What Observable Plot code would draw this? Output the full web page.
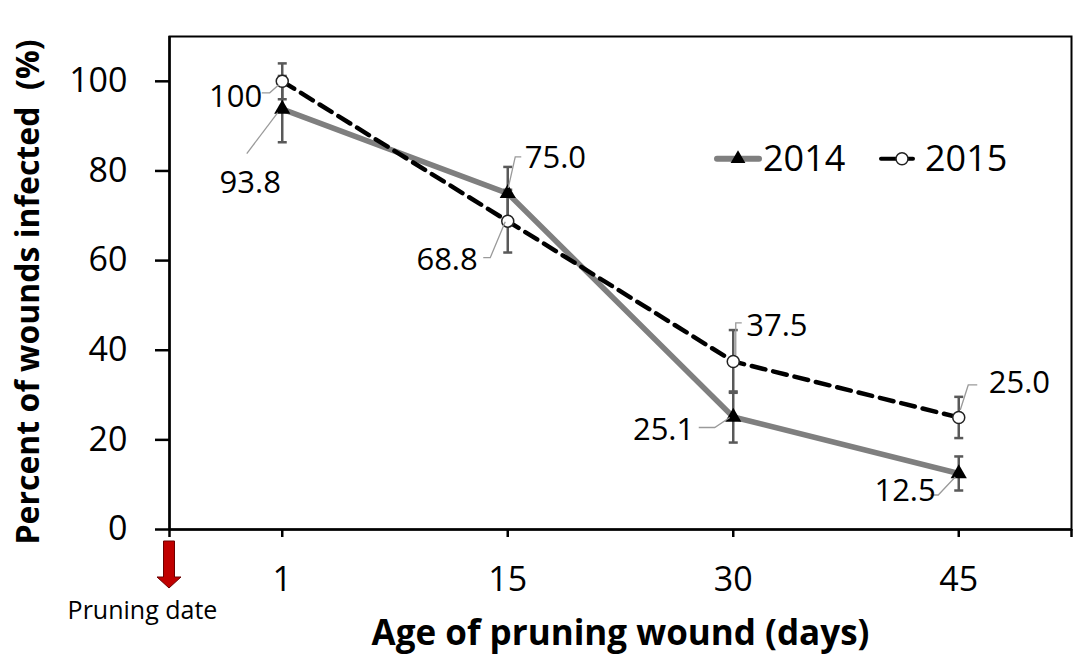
<!DOCTYPE html>
<html>
<head>
<meta charset="utf-8">
<script src="https://cdn.jsdelivr.net/npm/d3@7"></script>
<script src="https://cdn.jsdelivr.net/npm/@observablehq/plot@0.6"></script>
<style>
  html, body { margin: 0; padding: 0; background: white; }
  svg text { white-space: pre; }
</style>
</head>
<body>
<div id="chart"></div>
<script>
// ---- data ----
const days = ["1", "15", "30", "45"];
const y2014 = [93.8, 75.0, 25.1, 12.5];
const y2015 = [100, 68.8, 37.5, 25.0];
const err2014 = [7.4, 5.9, 5.7, 3.8];
const err2015 = [4.0, 7.0, 7.0, 4.6];
const yTicks = [0, 20, 40, 60, 80, 100];
const years = ["2014", "2015"];

// ---- label layout (pixel offsets from each point) ----
const lab2014 = [
  {dx: -32, dy: 74, anchor: "middle", lead: [[-35, 45], [-4, 4]]},
  {dx: 17, dy: -35, anchor: "start", lead: [[1, -5], [8, -36], [14, -36]]},
  {dx: -39, dy: 13, anchor: "end", lead: [[-34, 11], [-18, 11], [-3, 1]]},
  {dx: -23, dy: 18, anchor: "end", lead: [[-28, 22], [-20, 22], [-3, 4]]}
];
const lab2015 = [
  {dx: -20, dy: 16, anchor: "end", lead: [[-20, 12], [-12, 12], [-3, 4]]},
  {dx: -30, dy: 39, anchor: "end", lead: [[-24, 37], [-17, 37], [-2, 1]]},
  {dx: 13, dy: -35, anchor: "start", lead: [[9, -38], [3, -38], [3, -6]]},
  {dx: 30, dy: -34, anchor: "start", lead: [[19, -32], [10, -32], [2, -7]]}
];

const fmt = v => (v === 100 ? "100" : v.toFixed(1));
const r14 = days.map((d, i) => ({i, v: y2014[i], e: err2014[i], lab: lab2014[i]}));
const r15 = days.map((d, i) => ({i, v: y2015[i], e: err2015[i], lab: lab2015[i]}));
const all = [...r14, ...r15];

const capSymbol = {
  draw(ctx, size) {
    const w = Math.sqrt(size / Math.PI);
    ctx.moveTo(-w, 0);
    ctx.lineTo(w, 0);
  }
};

const labelMarks = all.map(d =>
  Plot.text([d], {
    x: "i", y: "v", text: q => fmt(q.v),
    dx: d.lab.dx, dy: d.lab.dy, textAnchor: d.lab.anchor,
    lineAnchor: "middle", fontSize: 31, fill: "black"
  })
);

function leaders(index, scales) {
  const g = d3.create("svg:g").attr("fill", "none").attr("stroke", "#9a9a9a").attr("stroke-width", 1.3);
  for (const d of all) {
    const px = scales.x(d.i), py = scales.y(d.v);
    g.append("polyline").attr("points", d.lab.lead.map(([a, b]) => `${px + a},${py + b}`).join(" "));
  }
  return g.node();
}

function legend(index, scales) {
  const g = d3.create("svg:g").attr("text-anchor", "start");
  const ly = scales.y(82.6);
  // 2014
  g.append("line").attr("x1", 717).attr("x2", 759).attr("y1", ly).attr("y2", ly)
    .attr("stroke", "#7f7f7f").attr("stroke-width", 6).attr("stroke-linecap", "round");
  g.append("path").attr("d", d3.symbol(d3.symbolTriangle, 95)()).attr("transform", `translate(738,${ly})`).attr("fill", "black");
  g.append("text").attr("x", 763).attr("y", ly).attr("dy", "0.35em").attr("font-size", 36).attr("text-anchor", "start").text(years[0]);
  // 2015
  g.append("line").attr("x1", 881).attr("x2", 913).attr("y1", ly).attr("y2", ly)
    .attr("stroke", "black").attr("stroke-width", 4).attr("stroke-linecap", "round");
  g.append("circle").attr("cx", 902).attr("cy", ly).attr("r", 6).attr("fill", "white").attr("stroke", "#222").attr("stroke-width", 1.5);
  g.append("text").attr("x", 925).attr("y", ly).attr("dy", "0.35em").attr("font-size", 36).attr("text-anchor", "start").text(years[1]);
  return g.node();
}

function pruningArrow(index, scales) {
  const x0 = scales.x(-0.5);
  const top = 541, shaftEnd = 577, tip = 588;
  const pts = [
    [x0 - 5.5, top], [x0 + 5.5, top], [x0 + 5.5, shaftEnd], [x0 + 12, shaftEnd],
    [x0, tip], [x0 - 12, shaftEnd], [x0 - 5.5, shaftEnd]
  ];
  return d3.create("svg:polygon")
    .attr("points", pts.map(p => p.join(",")).join(" "))
    .attr("fill", "#c00000").attr("stroke", "#6b0000").attr("stroke-width", 1).node();
}

const chart = Plot.plot({
  width: 1075,
  height: 659,
  marginLeft: 169,
  marginRight: 4,
  marginTop: 36,
  marginBottom: 130,
  style: {fontFamily: "'Open Sans', sans-serif", background: "white", color: "black"},
  x: {type: "linear", domain: [-0.5, 3.5]},
  y: {domain: [0, 110]},
  marks: [
    Plot.frame({stroke: "black", strokeWidth: 2}),
    Plot.axisY({ticks: yTicks, tickSize: 14, tickPadding: 28, fontSize: 34, label: null, strokeWidth: 2.5}),
    Plot.axisX({
      ticks: [-0.5, 0, 1, 2, 3, 3.5],
      tickFormat: d => (Number.isInteger(d) ? days[d] : ""),
      tickSize: 8, tickPadding: 29, fontSize: 34, label: null, strokeWidth: 2.5
    }),
    Plot.ruleX([-0.5], {stroke: "black", strokeWidth: 2.5}),
    Plot.ruleY([0], {stroke: "black", strokeWidth: 2.5}),
    Plot.line(r14, {x: "i", y: "v", stroke: "#7f7f7f", strokeWidth: 5.5}),
    Plot.line(r15, {x: "i", y: "v", stroke: "black", strokeWidth: 4.5, strokeDasharray: "14,8"}),
    Plot.ruleX(all, {x: "i", y1: d => d.v - d.e, y2: d => d.v + d.e, stroke: "#595959", strokeWidth: 2.5}),
    Plot.dot(all, {x: "i", y: d => d.v - d.e, symbol: capSymbol, r: 4.5, stroke: "#595959", strokeWidth: 2.5}),
    Plot.dot(all, {x: "i", y: d => d.v + d.e, symbol: capSymbol, r: 4.5, stroke: "#595959", strokeWidth: 2.5}),
    Plot.dot(r14, {x: "i", y: "v", symbol: "triangle", r: 6, fill: "black"}),
    Plot.dot(r15, {x: "i", y: "v", r: 6, fill: "white", stroke: "#222", strokeWidth: 1.5}),
    leaders,
    ...labelMarks,
    legend,
    pruningArrow,
    Plot.text(["Pruning date"], {x: () => -0.5, frameAnchor: "bottom", dy: 81, dx: -27, fontSize: 25, lineAnchor: "middle", textAnchor: "middle"}),
    Plot.text(["Age of pruning wound (days)"], {frameAnchor: "bottom", dy: 104, fontSize: 35, fontWeight: "bold", lineAnchor: "middle", textAnchor: "middle"}),
    Plot.text(["Percent of wounds infected  (%)"], {frameAnchor: "left", dx: -141, dy: 9, rotate: -90, fontSize: 32, fontWeight: "bold", lineAnchor: "middle", textAnchor: "middle"})
  ]
});
document.getElementById("chart").appendChild(chart);
</script>
</body>
</html>
